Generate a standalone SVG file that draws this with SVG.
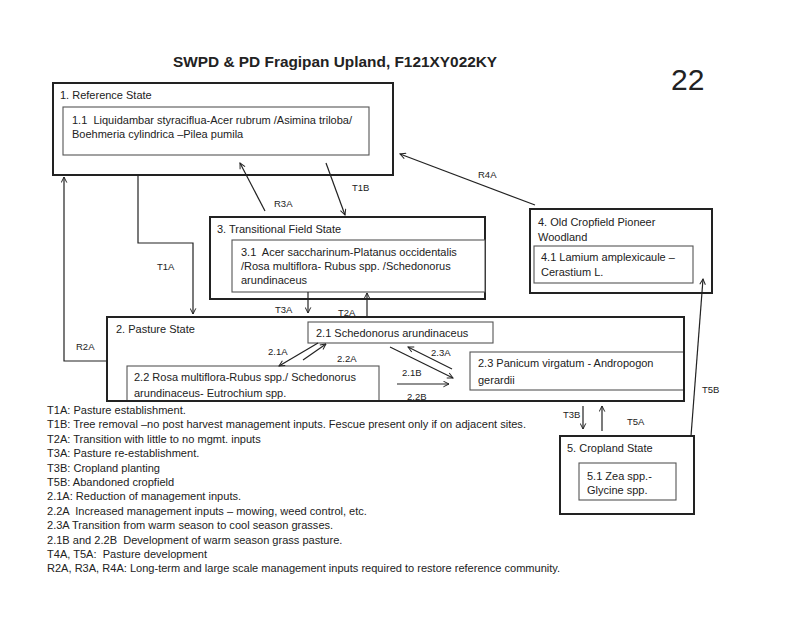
<svg xmlns="http://www.w3.org/2000/svg" width="800" height="617" viewBox="0 0 800 617">
<defs>
<marker id="ah" viewBox="0 0 10 10" refX="9" refY="5" markerWidth="7" markerHeight="7" orient="auto" markerUnits="userSpaceOnUse">
<polyline points="1,1 9,5 1,9" fill="none" stroke="#222" stroke-width="1.4"/>
</marker>
<style>
text{font-family:"Liberation Sans",Arial,sans-serif;fill:#222;white-space:pre}
.t{font-size:11px}
.l{font-size:9.5px}
.g{font-size:11.05px}
.outer{fill:#fff;stroke:#222;stroke-width:2}
.inner{fill:#fff;stroke:#555;stroke-width:1.1}
.ca{fill:none;stroke:#222;stroke-width:1.2;marker-end:url(#ah)}
</style>
</defs>
<rect width="800" height="617" fill="#fff"/>
<text x="173" y="67" style="font-size:15.4px;font-weight:bold">SWPD &amp; PD Fragipan Upland, F121XY022KY</text>
<text x="671" y="90" style="font-size:30px">22</text>

<g id="state1">
<rect class="outer" x="53" y="83" width="340" height="92"/>
<text class="t" x="60" y="99">1. Reference State</text>
<g id="state1-1">
<rect class="inner" x="63" y="107" width="306" height="48"/>
<text class="t" x="72" y="124">1.1  Liquidambar styraciflua-Acer rubrum /Asimina triloba/</text>
<text class="t" x="72" y="138">Boehmeria cylindrica –Pilea pumila</text>
</g>
</g>

<g id="state3">
<rect class="outer" x="210" y="217" width="275" height="82"/>
<text class="t" x="217" y="233">3. Transitional Field State</text>
<g id="state3-1">
<rect class="inner" x="232" y="240" width="253" height="52"/>
<text class="t" x="241" y="256">3.1  Acer saccharinum-Platanus occidentalis</text>
<text class="t" x="241" y="270">/Rosa multiflora- Rubus spp. /Schedonorus</text>
<text class="t" x="241" y="284">arundinaceus</text>
</g>
</g>

<g id="state4">
<rect class="outer" x="530" y="209" width="182" height="84"/>
<text class="t" x="538" y="226">4. Old Cropfield Pioneer</text>
<text class="t" x="538" y="241">Woodland</text>
<g id="state4-1">
<rect class="inner" x="534" y="246" width="159" height="37"/>
<text class="t" x="541" y="261">4.1 Lamium amplexicaule –</text>
<text class="t" x="541" y="276">Cerastium L.</text>
</g>
</g>

<g id="state2">
<rect class="outer" x="107" y="317" width="577" height="84"/>
<text class="t" x="116" y="333">2. Pasture State</text>
<g id="state2-1">
<rect class="inner" x="308" y="322" width="185" height="21"/>
<text class="t" x="316" y="337">2.1 Schedonorus arundinaceus</text>
</g>
<g id="state2-2">
<rect class="inner" x="127" y="366" width="252" height="35"/>
<text class="t" x="134" y="381">2.2 Rosa multiflora-Rubus spp./ Schedonorus</text>
<text class="t" x="134" y="397">arundinaceus- Eutrochium spp.</text>
</g>
<g id="state2-3">
<rect class="inner" x="470" y="352" width="214" height="38"/>
<text class="t" x="478" y="367">2.3 Panicum virgatum - Andropogon</text>
<text class="t" x="478" y="384">gerardii</text>
</g>
<rect x="107" y="317" width="577" height="84" fill="none" stroke="#222" stroke-width="2"/>
</g>

<g id="state5">
<rect class="outer" x="560" y="436" width="134" height="78"/>
<text class="t" x="567" y="452">5. Cropland State</text>
<g id="state5-1">
<rect class="inner" x="579" y="463" width="97" height="37"/>
<text class="t" x="587" y="480">5.1 Zea spp.-</text>
<text class="t" x="587" y="494">Glycine spp.</text>
</g>
</g>

<g id="connectors">
<polyline class="ca" points="107,361 64,361 64,177"/>
<polyline class="ca" points="138,175 138,243 193,243 193,314"/>
<line class="ca" x1="265" y1="211" x2="240" y2="163"/>
<line class="ca" x1="326" y1="163" x2="345" y2="215"/>
<line class="ca" x1="535" y1="205" x2="400" y2="154"/>
<line class="ca" x1="308" y1="292" x2="308" y2="313"/>
<line class="ca" x1="367" y1="317" x2="367" y2="293"/>
<line class="ca" x1="318" y1="343" x2="279" y2="366"/>
<line class="ca" x1="303" y1="360" x2="326" y2="344"/>
<line class="ca" x1="390" y1="347" x2="453" y2="378"/>
<line class="ca" x1="452" y1="369" x2="408" y2="347"/>
<line class="ca" x1="397" y1="384" x2="449" y2="384"/>
<line class="ca" x1="583" y1="406" x2="583" y2="429"/>
<line class="ca" x1="602" y1="431" x2="602" y2="406"/>
<line class="ca" x1="691" y1="436" x2="703" y2="279"/>
<text class="l" x="76" y="350">R2A</text>
<text class="l" x="157" y="270">T1A</text>
<text class="l" x="274" y="207">R3A</text>
<text class="l" x="352" y="191">T1B</text>
<text class="l" x="478" y="178">R4A</text>
<text class="l" x="275" y="313">T3A</text>
<text class="l" x="338" y="316">T2A</text>
<text class="l" x="268" y="355">2.1A</text>
<text class="l" x="337" y="362">2.2A</text>
<text class="l" x="431" y="356">2.3A</text>
<text class="l" x="402" y="376">2.1B</text>
<text class="l" x="407" y="400">2.2B</text>
<text class="l" x="563" y="418">T3B</text>
<text class="l" x="627" y="425">T5A</text>
<text class="l" x="702" y="393">T5B</text>
</g>

<g id="legend">
<text class="g" x="47" y="414">T1A: Pasture establishment.</text>
<text class="g" x="47" y="428.4">T1B: Tree removal –no post harvest management inputs. Fescue present only if on adjacent sites.</text>
<text class="g" x="47" y="442.8">T2A: Transition with little to no mgmt. inputs</text>
<text class="g" x="47" y="457.2">T3A: Pasture re-establishment.</text>
<text class="g" x="47" y="471.6">T3B: Cropland planting</text>
<text class="g" x="47" y="486">T5B: Abandoned cropfield</text>
<text class="g" x="47" y="500.4">2.1A: Reduction of management inputs.</text>
<text class="g" x="47" y="514.8">2.2A  Increased management inputs – mowing, weed control, etc.</text>
<text class="g" x="47" y="529.2">2.3A Transition from warm season to cool season grasses.</text>
<text class="g" x="47" y="543.6">2.1B and 2.2B  Development of warm season grass pasture.</text>
<text class="g" x="47" y="558">T4A, T5A:  Pasture development</text>
<text class="g" x="47" y="572.4">R2A, R3A, R4A: Long-term and large scale management inputs required to restore reference community.</text>
</g>
</svg>
